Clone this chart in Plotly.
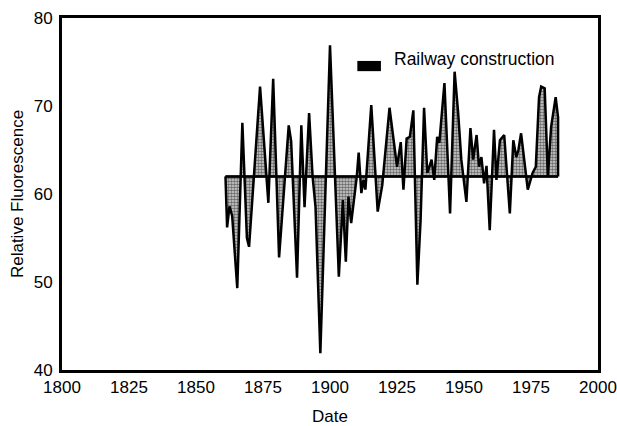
import plotly.graph_objects as go

# Relative fluorescence record: turning points of the series (year, value)
years = [1861.0, 1861.6, 1862.5, 1863.5, 1865.4, 1867.3, 1869.0, 1869.8, 1873.9,
         1877.0, 1878.8, 1881.0, 1884.6, 1885.5, 1887.7, 1889.3, 1890.5, 1892.2,
         1893.5, 1894.6, 1896.4, 1900.0, 1903.3, 1904.8, 1905.9, 1906.9, 1907.9,
         1910.0, 1910.7, 1911.7, 1912.5, 1913.2, 1915.4, 1917.8, 1919.5, 1922.2,
         1925.0, 1926.4, 1927.4, 1928.6, 1929.8, 1931.1, 1932.6, 1933.8, 1935.1,
         1936.3, 1937.0, 1937.9, 1938.9, 1940.0, 1940.8, 1942.7, 1944.8, 1946.5,
         1947.8, 1949.0, 1950.9, 1952.4, 1953.4, 1954.7, 1955.6, 1956.5, 1957.5,
         1958.4, 1959.6, 1961.2, 1962.1, 1963.4, 1965.0, 1966.2, 1967.1, 1968.4,
         1969.5, 1970.3, 1971.3, 1973.8, 1975.6, 1976.8, 1978.0, 1978.8, 1980.1,
         1981.3, 1982.5, 1984.2, 1985.1]
fluorescence = [62.0, 56.2, 58.6, 57.5, 49.3, 68.1, 55.0, 54.0, 72.2,
                59.0, 73.1, 52.8, 67.8, 66.0, 50.5, 67.8, 58.5, 69.2,
                62.0, 58.5, 41.9, 76.9, 50.6, 59.3, 52.3, 59.7, 56.7,
                62.0, 64.7, 60.1, 61.6, 60.5, 70.1, 58.0, 61.0, 69.8,
                63.1, 65.9, 60.5, 66.3, 66.5, 69.5, 49.7, 57.0, 69.8,
                62.4, 63.0, 63.9, 61.6, 66.5, 65.8, 72.6, 57.8, 73.9,
                69.3, 63.9, 59.1, 67.5, 63.9, 66.7, 63.1, 64.2, 61.2,
                63.2, 55.9, 67.3, 61.6, 66.1, 66.7, 62.0, 57.8, 66.1,
                64.2, 65.0, 66.9, 60.5, 62.4, 63.1, 71.0, 72.2, 72.0,
                62.0, 67.6, 71.0, 68.7]

baseline_value = 62.0
x_ticks = [1800, 1825, 1850, 1875, 1900, 1925, 1950, 1975, 2000]
y_ticks = [40, 50, 60, 70, 80]
legend_label = "Railway construction"

FONT = "Liberation Sans, Arial, sans-serif"

fig = go.Figure()
# reference level the anomalies are shaded against
fig.add_trace(go.Scatter(x=[years[0], years[-1]], y=[baseline_value, baseline_value],
                         mode="lines", line=dict(color="black", width=2),
                         showlegend=False, hoverinfo="skip"))
# the record itself, shaded with a stipple to the reference level
fig.add_trace(go.Scatter(x=years + [years[-1]], y=fluorescence + [baseline_value],
                         mode="lines", line=dict(color="black", width=2.5),
                         fill="tonexty",
                         fillpattern=dict(shape=".", size=3, solidity=0.55,
                                          fgcolor="black", bgcolor="#d4d4d4"),
                         showlegend=False))
# redraw the reference line on top of the shading
fig.add_trace(go.Scatter(x=[years[0], years[-1]], y=[baseline_value, baseline_value],
                         mode="lines", line=dict(color="black", width=2.5),
                         showlegend=False, hoverinfo="skip"))

axis_common = dict(showgrid=False, zeroline=False, showline=True, linewidth=3,
                   linecolor="black", mirror=True, ticks="", automargin=False,
                   tickfont=dict(family=FONT, size=17, color="black"))

fig.update_layout(
    width=617, height=426,
    margin=dict(l=62, r=19, t=18, b=56),
    paper_bgcolor="white", plot_bgcolor="white",
    xaxis=dict(range=[1800, 2000], tickvals=x_ticks, ticklabelstandoff=0,
               title=dict(text="Date", font=dict(family=FONT, size=17, color="black"),
                          standoff=16),
               **axis_common),
    yaxis=dict(range=[40, 80], tickvals=y_ticks, ticklabelstandoff=3,
               title=dict(text="Relative Fluorescence",
                          font=dict(family=FONT, size=17, color="black"),
                          standoff=6),
               **axis_common),
    shapes=[dict(type="rect", xref="paper", yref="paper",
                 x0=0.551, x1=0.595, y0=0.849, y1=0.878,
                 fillcolor="black", line=dict(width=0))],
    annotations=[dict(text=legend_label, xref="paper", yref="paper",
                      x=0.616, y=0.884, xanchor="left", yanchor="middle",
                      showarrow=False,
                      font=dict(family=FONT, size=17.5, color="black"))],
)

fig.write_html("out.html")
